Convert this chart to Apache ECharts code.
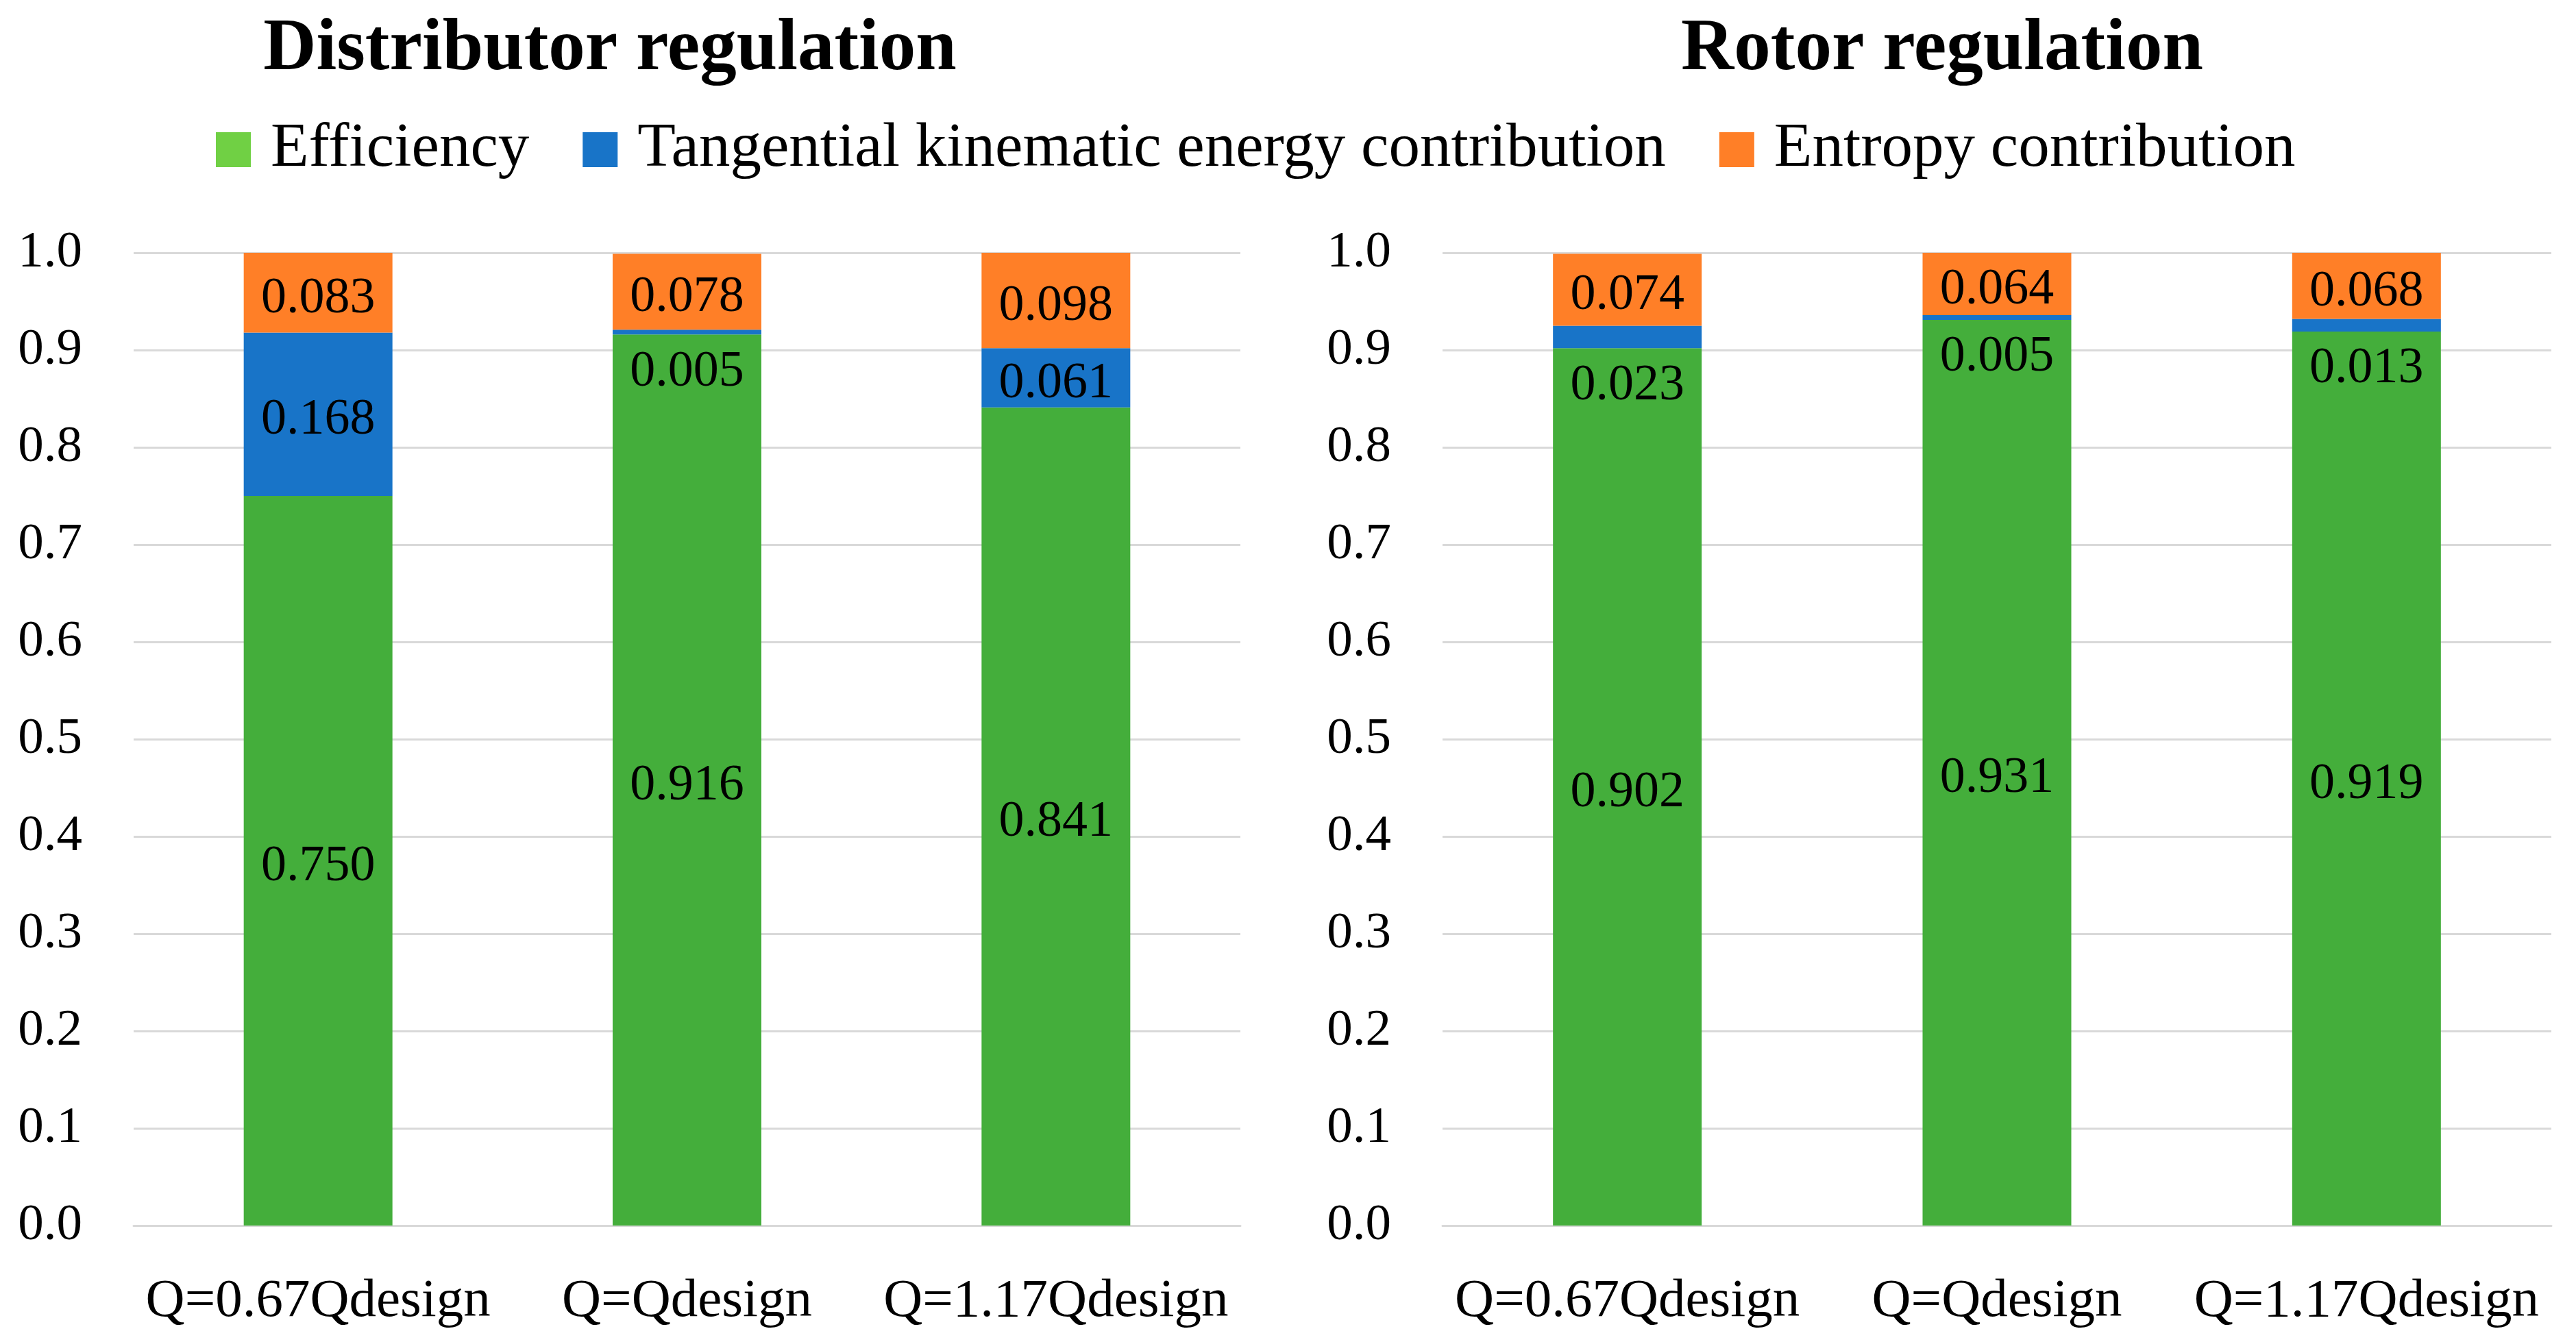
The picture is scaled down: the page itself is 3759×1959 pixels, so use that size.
<!DOCTYPE html>
<html>
<head>
<meta charset="utf-8">
<script src="https://cdn.jsdelivr.net/npm/echarts@6/dist/echarts.min.js"></script>
<style>
html,body{margin:0;padding:0;background:#fff;}
#c{width:3759px;height:1959px;}
</style>
</head>
<body>
<div id="c"></div>
<script>
const categories = ['Q=0.67Qdesign', 'Q=Qdesign', 'Q=1.17Qdesign'];
const seriesNames = ['Efficiency', 'Tangential kinematic energy contribution', 'Entropy contribution'];
const panelTitles = ['Distributor regulation', 'Rotor regulation'];
const yTicks = ['0.0','0.1','0.2','0.3','0.4','0.5','0.6','0.7','0.8','0.9','1.0'];

const distEfficiency = [0.750, 0.916, 0.841];
const distTangential = [0.168, 0.005, 0.061];
const distEntropy    = [0.083, 0.078, 0.098];

const rotorEfficiency = [0.902, 0.931, 0.919];
const rotorTangential = [0.023, 0.005, 0.013];
const rotorEntropy    = [0.074, 0.064, 0.068];

const FONT = '"Liberation Serif", "DejaVu Serif", serif';
const barColors = ['#44AE3B', '#1874C8', '#FF7F27'];
const legendColors = ['#70D044', '#1874C8', '#FF7F27'];

const panels = [
  [distEfficiency, distTangential, distEntropy],
  [rotorEfficiency, rotorTangential, rotorEntropy]
];

const grids = [
  {left: 195, right: 3759 - 1810, top: 369, bottom: 1959 - 1789},
  {left: 2105, right: 3759 - 3723, top: 369, bottom: 1959 - 1789}
];

const xAxes = grids.map((g, i) => ({
  type: 'category', gridIndex: i, data: categories,
  axisLine: {show: true, lineStyle: {color: '#D9D9D9', width: 3}},
  axisTick: {show: false},
  axisLabel: {interval: 0, fontFamily: FONT, fontSize: 79, color: '#000', margin: 72}
}));

const yAxes = grids.map((g, i) => ({
  type: 'value', gridIndex: i, min: 0, max: 1, interval: 0.1,
  axisLine: {show: false}, axisTick: {show: false},
  splitLine: {lineStyle: {color: '#D9D9D9', width: 3}},
  axisLabel: {fontFamily: FONT, fontSize: 75, color: '#000', margin: 75,
    formatter: v => yTicks[Math.round(v * 10)]}
}));

const series = [];
panels.forEach((vals, p) => {
  vals.forEach((arr, s) => {
    series.push({
      name: seriesNames[s], type: 'bar', stack: 'p' + p,
      xAxisIndex: p, yAxisIndex: p, barWidth: 217,
      itemStyle: {color: barColors[s]},
      data: arr.map(v => ({
        value: v,
        label: (s === 1 && v < 0.03) ? {position: 'bottom', distance: 18} : {position: 'inside', offset: [0, 9]}
      })),
      label: {show: true, fontFamily: FONT, fontSize: 74, color: '#000',
        formatter: d => d.value.toFixed(3)}
    });
  });
});

const chart = echarts.init(document.getElementById('c'), null, {renderer: 'canvas'});
chart.setOption({
  backgroundColor: '#fff',
  animation: false,
  title: [
    {text: panelTitles[0], left: 885, top: 15, textAlign: 'center',
     textStyle: {fontFamily: FONT, fontWeight: 'bold', fontSize: 107, color: '#000'}},
    {text: panelTitles[1], left: 2829, top: 15, textAlign: 'center',
     textStyle: {fontFamily: FONT, fontWeight: 'bold', fontSize: 107, color: '#000'}}
  ],
  legend: {
    top: 173, left: 315, padding: 0, itemWidth: 51, itemHeight: 51, itemGap: 78,
    icon: 'rect',
    data: seriesNames.map((n, i) => ({name: n, itemStyle: {color: legendColors[i]}})),
    textStyle: {fontFamily: FONT, fontSize: 91, color: '#000', padding: [0, 0, 0, 24]}
  },
  grid: grids,
  xAxis: xAxes,
  yAxis: yAxes,
  series: series
});
</script>
</body>
</html>
